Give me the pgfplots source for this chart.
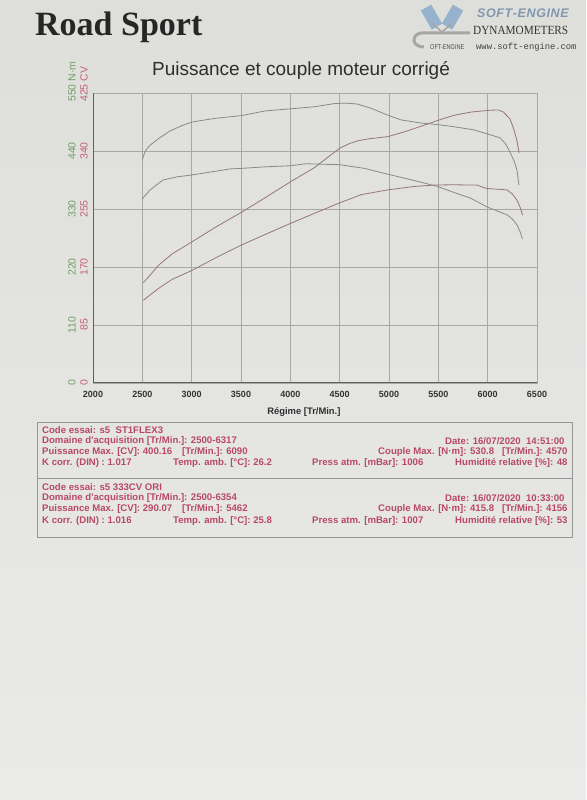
\documentclass[border=0pt]{standalone}
\usepackage{fontspec}
\setmainfont{Liberation Serif}
\newfontfamily\arial{Liberation Sans}
\newfontfamily\mono{Liberation Mono}
\usepackage{pgfplots}
\pgfplotsset{compat=1.18}
\definecolor{txtred}{RGB}{185,72,102}
\definecolor{tickred}{RGB}{196,96,118}
\definecolor{tickgreen}{RGB}{112,158,104}
\definecolor{torq}{RGB}{136,138,134}
\definecolor{powc}{RGB}{150,116,126}
\definecolor{gridc}{RGB}{168,168,166}
\definecolor{framec}{RGB}{95,95,95}
\definecolor{boxc}{RGB}{150,150,150}
\definecolor{logoblue}{RGB}{150,178,205}
\newcommand\tb{\arial\bfseries\fontsize{9.6}{11}\selectfont}
\pgfplotsset{dyno/.style={at={(93pt,417pt)}, anchor=south west, scale only axis,
  width=444pt, height=290pt, xmin=2000, xmax=6500, ymin=0, major tick length=0pt,
  yticklabel style={font=\arial\fontsize{10.5}{12}\selectfont, rotate=90, anchor=center}}}
\begin{document}
\begin{tikzpicture}
\shade[top color={rgb,255:red,222;green,223;blue,219}, bottom color={rgb,255:red,234;green,235;blue,232}] (0,0) rectangle (586pt,800pt);
% header
\node[anchor=base west, inner sep=0pt, text=black!85] at (35pt,764pt) {\fontsize{34}{36}\selectfont\bfseries Road Sport};
% logo
\fill[logoblue, rotate around={30:(432pt,782pt)}] (426pt,772pt) rectangle (438pt,794pt);
\fill[logoblue, rotate around={-30:(452pt,782pt)}] (446pt,772pt) rectangle (458pt,794pt);
\draw[gray!70, line width=1.5pt] (433pt,776pt) -- (442pt,768pt) -- (451pt,776pt);
\draw[gray!70, line width=3pt] (470pt,767pt) -- (422pt,767pt) to[out=180,in=90] (414pt,760pt) to[out=-90,in=180] (424pt,753pt);
\node[anchor=west, inner sep=0pt, text=logoblue!85!black] at (477pt,787pt) {\arial\bfseries\itshape\fontsize{12.5}{13}\selectfont S\kern0.6pt O\kern0.6pt F\kern0.6pt T\kern0.6pt -\kern0.6pt E\kern0.6pt N\kern0.6pt G\kern0.6pt I\kern0.6pt N\kern0.6pt E};
\node[anchor=west, inner sep=0pt, text=black!80, xscale=0.9] at (473pt,770pt) {\fontsize{12.5}{13}\selectfont DYNAMOMETERS};
\node[anchor=west, inner sep=0pt, text=black!75] at (476pt,753pt) {\mono\fontsize{8.8}{10}\selectfont www.soft-engine.com};
\node[anchor=west, inner sep=0pt, text=black!70, xscale=0.8] at (430pt,753pt) {\arial\fontsize{7}{8}\selectfont OFT-ENGINE};
% title
\node[inner sep=0pt, text=black!82] at (301pt,730pt) {\arial\fontsize{19}{21}\selectfont Puissance et couple moteur corrigé};

% power axis (CV)
\begin{axis}[dyno, ymax=425,
  xtick={2000,2500,...,6500},
  xticklabels={2000,2500,3000,3500,4000,4500,5000,5500,6000,6500},
  xticklabel style={font=\arial\bfseries\fontsize{9}{10}\selectfont, text=black!80, anchor=center},
  xticklabel shift=11pt,
  ytick={0,85,170,255,340,425},
  yticklabels={0,85,170,255,340,425\rlap{ CV}},
  yticklabel style={text=tickred},
  yticklabel shift=9pt,
  grid=major, grid style={gridc, line width=0.6pt},
  axis line style={gridc, line width=0.6pt},
  xlabel={Régime [Tr/Min.]},
  xlabel style={font=\arial\bfseries\fontsize{9.4}{10}\selectfont, text=black!82, at={(axis description cs:0.475,0)}, anchor=center, yshift=-29pt},
]
\draw[framec, line width=1pt] (rel axis cs:0,1) -- (rel axis cs:0,0) -- (rel axis cs:1,0);
% ST1FLEX3 power
\addplot[powc, line width=0.8pt] coordinates {
(2510,147) (2560,155) (2668,173) (2800,189) (3004,207) (3250,229) (3502,250)
(3750,272) (4003,295) (4248,316) (4400,333) (4500,344) (4600,351) (4685,355)
(4800,358) (4987,361) (5155,368) (5300,375) (5499,385) (5650,392) (5829,397)
(6003,399.5) (6105,400.2) (6160,397) (6226,387) (6265,372) (6297,355) (6318,337)};
% 333CV ORI power
\addplot[powc, line width=0.8pt] coordinates {
(2510,121) (2560,127) (2668,139) (2803,152) (3004,165) (3250,184) (3502,202)
(3750,218) (4003,234) (4250,249) (4500,264) (4718,276) (4987,283) (5256,288)
(5462,290.1) (5650,290.5) (5892,290) (5990,285) (6100,284) (6195,283) (6250,277)
(6297,268) (6330,257) (6354,246)};
\end{axis}

% torque axis (N.m)
\begin{axis}[dyno, ymax=550,
  xtick=\empty,
  ytick={0,110,220,330,440,550},
  yticklabels={0,110,220,330,440,550\rlap{ N·m}},
  yticklabel style={text=tickgreen},
  yticklabel shift=21pt,
  axis line style={draw=none},
]
% ST1FLEX3 torque
\addplot[torq, line width=0.8pt] coordinates {
(2500,424) (2530,440) (2578,451) (2668,464) (2780,478) (2900,488) (3004,495)
(3240,502) (3502,507) (3744,516) (4003,520) (4248,524) (4450,530) (4570,530.8)
(4680,529) (4819,521) (4987,508) (5122,499) (5323,493) (5499,490) (5660,486)
(5862,480) (6003,472) (6125,465) (6180,454) (6226,438) (6270,420) (6297,404) (6317,375)};
% 333CV ORI torque
\addplot[torq, line width=0.8pt] coordinates {
(2500,349) (2530,356) (2578,366) (2640,375) (2709,385) (2851,391) (2983,394)
(3120,398) (3389,406) (3502,407) (3750,410) (4003,412) (4156,415.8) (4300,415)
(4500,414) (4752,407) (4987,396) (5256,384) (5487,373) (5695,359) (5821,351)
(5993,334) (6100,326) (6196,319) (6250,311) (6297,300) (6330,286) (6354,273)};
\end{axis}

% info box
\draw[boxc, line width=0.8pt] (37pt,378pt) rectangle (572pt,263pt);
\draw[boxc, line width=0.8pt] (37pt,322pt) -- (572pt,322pt);
\begin{scope}[every node/.style={inner sep=0pt, text=txtred, font=\tb}]
\node[anchor=west] at (42pt,370pt) {Code essai: s5\ \ ST1FLEX3};
\node[anchor=west] at (42pt,359pt) {Domaine d'acquisition [Tr/Min.]: 2500-6317};
\node[anchor=west] at (445pt,359pt) {Date: 16/07/2020\ \ 14:51:00};
\node[anchor=west] at (42pt,348pt) {Puissance Max. [CV]: 400.16};
\node[anchor=west] at (182pt,348pt) {[Tr/Min.]: 6090};
\node[anchor=west] at (378pt,348pt) {Couple Max. [N·m]: 530.8\ \ \ [Tr/Min.]: 4570};
\node[anchor=west] at (42pt,337pt) {K corr. (DIN) : 1.017};
\node[anchor=west] at (173pt,337pt) {Temp. amb. [°C]: 26.2};
\node[anchor=west] at (312pt,337pt) {Press atm. [mBar]: 1006};
\node[anchor=west] at (455pt,337pt) {Humidité relative [\%]: 48};
\node[anchor=west] at (42pt,313pt) {Code essai: s5 333CV ORI};
\node[anchor=west] at (42pt,302pt) {Domaine d'acquisition [Tr/Min.]: 2500-6354};
\node[anchor=west] at (445pt,302pt) {Date: 16/07/2020\ \ 10:33:00};
\node[anchor=west] at (42pt,291pt) {Puissance Max. [CV]: 290.07};
\node[anchor=west] at (182pt,291pt) {[Tr/Min.]: 5462};
\node[anchor=west] at (378pt,291pt) {Couple Max. [N·m]: 415.8\ \ \ [Tr/Min.]: 4156};
\node[anchor=west] at (42pt,279pt) {K corr. (DIN) : 1.016};
\node[anchor=west] at (173pt,279pt) {Temp. amb. [°C]: 25.8};
\node[anchor=west] at (312pt,279pt) {Press atm. [mBar]: 1007};
\node[anchor=west] at (455pt,279pt) {Humidité relative [\%]: 53};
\end{scope}
\end{tikzpicture}
\end{document}
